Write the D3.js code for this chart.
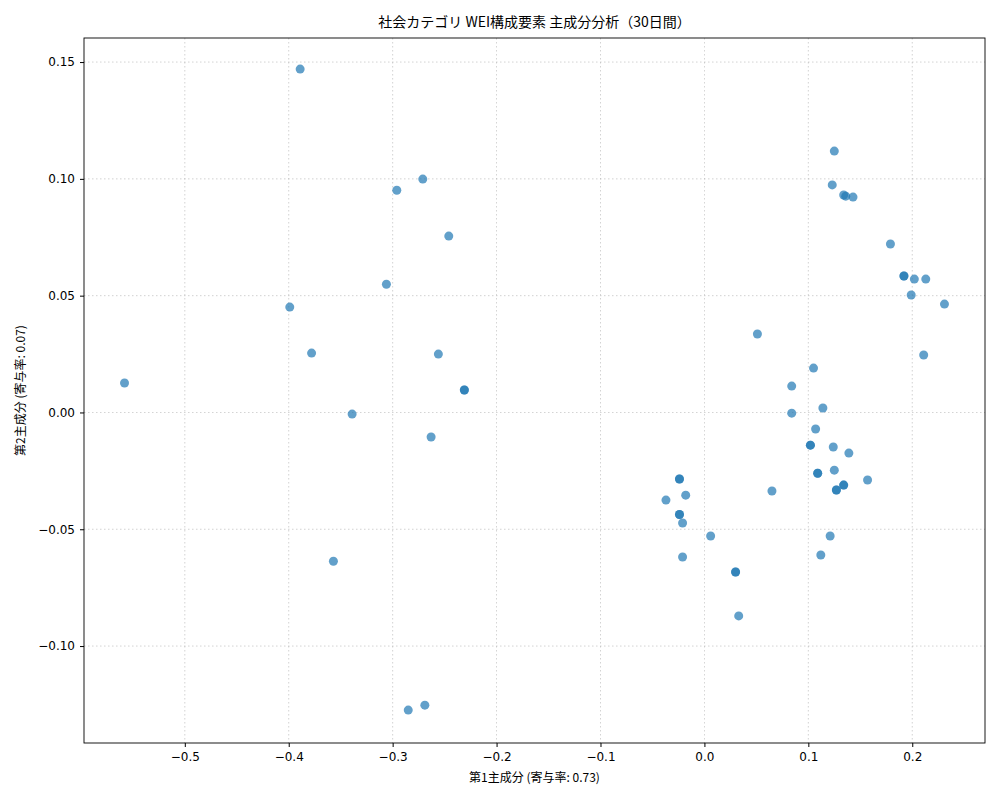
<!DOCTYPE html>
<html><head><meta charset="utf-8">
<script src="https://cdn.jsdelivr.net/npm/d3@7"></script>
<style>
body{margin:0;background:#fff;font-family:"Noto Sans CJK JP","DejaVu Sans",sans-serif;}
</style></head><body>
<svg id="chart" width="1000" height="800"></svg>
<script>
// PCA scores (PC1, PC2); repeated pairs are overlapping days
const pc1 = [-0.389,-0.271,-0.296,-0.246,-0.306,-0.399,-0.378,-0.256,-0.231,-0.231,-0.558,-0.339,-0.263,-0.357,-0.285,-0.269,
  0.125,0.123,0.134,0.136,0.143,0.179,0.192,0.192,0.202,0.213,0.199,0.231,0.051,0.211,0.105,0.084,0.084,0.114,0.107,0.102,0.102,
  0.124,0.139,0.109,0.109,0.157,0.125,0.127,0.127,0.134,0.134,0.065,-0.024,-0.024,-0.037,-0.018,-0.024,-0.024,-0.021,0.121,0.006,
  0.112,-0.021,0.030,0.030,0.033];
const pc2 = [0.147,0.0999,0.0951,0.0755,0.0549,0.0451,0.0254,0.0250,0.0096,0.0096,0.0126,-0.0007,-0.0105,-0.0637,-0.1274,-0.1253,
  0.1119,0.0974,0.0931,0.0926,0.0922,0.0721,0.0584,0.0584,0.0571,0.0571,0.0503,0.0464,0.0336,0.0246,0.0190,0.0113,-0.0003,0.0019,-0.0071,-0.0140,-0.0140,
  -0.0148,-0.0174,-0.0260,-0.0260,-0.0289,-0.0247,-0.0332,-0.0332,-0.0311,-0.0311,-0.0336,-0.0285,-0.0285,-0.0375,-0.0354,-0.0437,-0.0437,-0.0473,-0.0529,-0.0529,
  -0.0610,-0.0619,-0.0683,-0.0683,-0.0871];
const xTicks = [-0.5,-0.4,-0.3,-0.2,-0.1,0.0,0.1,0.2];
const yTicks = [-0.10,-0.05,0.00,0.05,0.10,0.15];
const title = "社会カテゴリ WEI構成要素 主成分分析（30日間）";
const xLabel = "第1主成分 (寄与率: 0.73)";
const yLabel = "第2主成分 (寄与率: 0.07)";

const margin = {top: 38, right: 15, bottom: 57, left: 84};
const width = 1000 - margin.left - margin.right;
const height = 800 - margin.top - margin.bottom;

const svg = d3.select('#chart');
const g = svg.append('g').attr('transform', `translate(${margin.left},${margin.top})`);

const x = d3.scaleLinear().domain([-0.597, 0.270]).range([0, width]);
const y = d3.scaleLinear().domain([-0.1415, 0.1603]).range([height, 0]);

const fmt = v => (v < 0 ? '\u2212' : '') + Math.abs(v).toFixed(v === 0 || Math.abs(v*10) % 1 === 0 && false ? 1 : (xTicks.includes(v) ? 1 : 2));

// grid
g.selectAll('.gx').data(xTicks).enter().append('line')
  .attr('x1', d => x(d)).attr('x2', d => x(d)).attr('y1', 0).attr('y2', height)
  .attr('stroke', '#b0b0b0').attr('stroke-width', 0.8).attr('stroke-dasharray', '1.5,2.5').attr('opacity', 0.7);
g.selectAll('.gy').data(yTicks).enter().append('line')
  .attr('y1', d => y(d)).attr('y2', d => y(d)).attr('x1', 0).attr('x2', width)
  .attr('stroke', '#b0b0b0').attr('stroke-width', 0.8).attr('stroke-dasharray', '1.5,2.5').attr('opacity', 0.7);

// axes
const xAxis = g.append('g').attr('transform', `translate(0,${height})`)
  .call(d3.axisBottom(x).tickValues(xTicks).tickSize(4).tickPadding(5)
    .tickFormat(d => (d < 0 ? '\u2212' : '') + Math.abs(d).toFixed(1)));
const yAxis = g.append('g')
  .call(d3.axisLeft(y).tickValues(yTicks).tickSize(4).tickPadding(5)
    .tickFormat(d => (d < 0 ? '\u2212' : '') + Math.abs(d).toFixed(2)));
[xAxis, yAxis].forEach(a => {
  a.selectAll('text').style('font-size', '12px').style('font-family', '"DejaVu Sans",sans-serif').attr('fill', '#000');
  a.select('.domain').remove();
});

g.append('rect').attr('width', width).attr('height', height)
  .attr('fill', 'none').attr('stroke', '#000').attr('stroke-width', 0.9);

// points
g.selectAll('circle').data(pc1.map((v, i) => [v, pc2[i]])).enter().append('circle')
  .attr('cx', d => x(d[0])).attr('cy', d => y(d[1])).attr('r', 4.5)
  .attr('fill', '#1f77b4').attr('fill-opacity', 0.7);

// labels
svg.append('text').attr('x', margin.left + width / 2).attr('y', 27)
  .attr('text-anchor', 'middle').style('font-size', '14px').text(title);
svg.append('text').attr('x', margin.left + width / 2).attr('y', 782)
  .attr('text-anchor', 'middle').style('font-size', '12px').text(xLabel);
svg.append('text').attr('transform', `translate(25,${margin.top + height / 2}) rotate(-90)`)
  .attr('text-anchor', 'middle').style('font-size', '12px').text(yLabel);
</script>
</body></html>
